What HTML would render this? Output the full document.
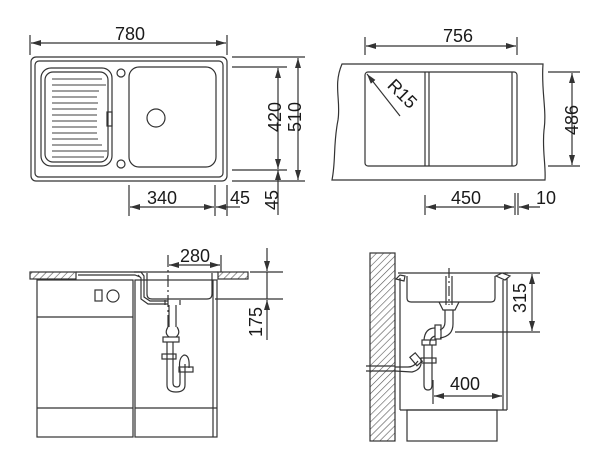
<!DOCTYPE html>
<html><head><meta charset="utf-8"><style>
html,body{margin:0;padding:0;background:#fff;}
svg{display:block;}
text{font-family:"Liberation Sans",Arial,sans-serif;font-size:18px;fill:#1a1a1a;}
</style></head><body>
<svg width="600" height="467" viewBox="0 0 600 467" xmlns="http://www.w3.org/2000/svg">
<defs>
<marker id="a" viewBox="0 0 10 6" refX="10" refY="3" markerWidth="10" markerHeight="6" orient="auto-start-reverse" markerUnits="userSpaceOnUse"><path d="M0,0 L10,3 L0,6 z" fill="#333"/></marker>
<pattern id="h" width="5" height="5" patternUnits="userSpaceOnUse" patternTransform="rotate(45)"><rect width="5" height="5" fill="#fff"/><line x1="0" y1="0" x2="0" y2="5" stroke="#555" stroke-width="1.2"/></pattern>
</defs>
<g fill="none" stroke="#333" stroke-width="1.2">
<line x1="30" y1="35" x2="30" y2="55"/><line x1="227" y1="35" x2="227" y2="55"/>
<line x1="31" y1="43" x2="226" y2="43" marker-start="url(#a)" marker-end="url(#a)"/>
<rect x="31" y="57" width="196" height="124" rx="5"/>
<rect x="35" y="61" width="188" height="116" rx="4"/>
<rect x="41" y="68" width="71" height="98" rx="10"/>
<rect x="45" y="72" width="63" height="90" rx="8"/>
<g stroke="#666">
<path d="M52,79 h50 M52,85 h54 M52,91 h47 M52,97 h45 M52,103 h46 M52,109 h45 M52,115 h45 M52,121 h45 M52,127 h45 M52,133 h45 M52,139 h46 M52,145 h50 M52,151 h55 M52,157 h52"/>
</g>
<rect x="107" y="112" width="5" height="14"/>
<circle cx="121" cy="73" r="4"/><circle cx="121" cy="164" r="4"/>
<rect x="129" y="67" width="87" height="100" rx="10"/>
<circle cx="156" cy="118" r="9"/>
<line x1="232" y1="57" x2="305" y2="57"/><line x1="232" y1="181" x2="305" y2="181"/>
<line x1="232" y1="67" x2="287" y2="67"/><line x1="232" y1="170" x2="287" y2="170"/>
<line x1="278" y1="68" x2="278" y2="169" marker-start="url(#a)" marker-end="url(#a)"/>
<line x1="298" y1="58" x2="298" y2="180" marker-start="url(#a)" marker-end="url(#a)"/>
<line x1="278" y1="181" x2="278" y2="215"/><line x1="278" y1="170" x2="278" y2="181" marker-start="url(#a)"/>
<line x1="129" y1="185" x2="129" y2="216"/><line x1="215" y1="185" x2="215" y2="216"/><line x1="227" y1="185" x2="227" y2="216"/>
<line x1="130" y1="207" x2="214" y2="207" marker-start="url(#a)" marker-end="url(#a)"/>
<line x1="216" y1="207" x2="240" y2="207" marker-start="url(#a)"/>

<line x1="365" y1="37" x2="365" y2="55"/><line x1="517" y1="37" x2="517" y2="55"/>
<line x1="366" y1="46" x2="516" y2="46" marker-start="url(#a)" marker-end="url(#a)"/>
<path d="M342,64 L543,64 C541,90 547,110 544,130 C542,150 546,165 545,180 L332,180 C336,160 333,145 338,120 C341,100 333,85 342,64 Z"/>
<rect x="365" y="72" width="152" height="94" rx="3"/>
<line x1="425" y1="72" x2="425" y2="166"/><line x1="429" y1="72" x2="429" y2="166"/>
<line x1="512" y1="72" x2="512" y2="166"/>
<line x1="400" y1="116" x2="367" y2="74" marker-end="url(#a)"/>
<line x1="548" y1="72" x2="580" y2="72"/><line x1="548" y1="166" x2="580" y2="166"/>
<line x1="572" y1="73" x2="572" y2="165" marker-start="url(#a)" marker-end="url(#a)"/>
<line x1="425" y1="195" x2="425" y2="215"/><line x1="515" y1="193" x2="515" y2="215"/><line x1="518" y1="193" x2="518" y2="215"/>
<line x1="426" y1="207" x2="514" y2="207" marker-start="url(#a)" marker-end="url(#a)"/>
<line x1="519" y1="207" x2="540" y2="207" marker-start="url(#a)"/>

<rect x="30" y="272" width="46" height="7" fill="url(#h)"/>
<rect x="218" y="272" width="30" height="7" fill="url(#h)"/>
<path d="M76,272 H218 M78,275 H135 L140,277"/>
<rect x="37" y="280" width="96" height="157"/>
<line x1="37" y1="317" x2="133" y2="317"/><line x1="37" y1="408" x2="133" y2="408"/>
<rect x="135" y="280" width="82" height="157"/>
<line x1="135" y1="408" x2="217" y2="408"/>
<line x1="213" y1="280" x2="213" y2="437"/>
<rect x="95" y="290" width="7" height="11"/><circle cx="113" cy="296" r="6"/>
<path d="M134,272 L141,272 L144,276 L144,297 L150,301 L168,301"/>
<path d="M138,275 L141,278 L141,299 L148,304 L168,304"/>
<path d="M147,273 L147,294 Q147,299 152,299 L207,299 Q212,299 212,294 L212,273"/>
<path d="M165,300 L165,305 M180,300 L180,305 M169,305 L169,327 M176,305 L176,327"/>
<path d="M168,327 Q164,333 169,337 M177,327 Q181,333 176,337"/>
<rect x="163" y="337" width="16" height="5"/>
<path d="M167,342 L167,385 Q167,392 176,392 Q185,392 185,385 L185,370 M173,342 L173,383 Q173,387 177,387 Q180,387 180,383 L180,370"/>
<rect x="162" y="354" width="14" height="5"/>
<path d="M180,370 Q178,358 184,355 Q190,355 189,368 M185,370 L185,364"/>
<rect x="179" y="367" width="14" height="5"/>
<line x1="168" y1="255" x2="168" y2="330" stroke-dasharray="12,3,2,3"/>
<line x1="221" y1="255" x2="221" y2="272"/>
<line x1="169" y1="265" x2="220" y2="265" marker-start="url(#a)" marker-end="url(#a)"/>
<line x1="250" y1="272" x2="283" y2="272"/><line x1="215" y1="299" x2="283" y2="299"/>
<line x1="267" y1="248" x2="267" y2="271" marker-end="url(#a)"/>
<line x1="267" y1="272" x2="267" y2="299"/>
<line x1="267" y1="340" x2="267" y2="300" marker-end="url(#a)"/>

<rect x="370" y="253" width="25" height="188" fill="url(#h)"/>
<path d="M398,273 H508 M396,279 L400,275 L405,276 L404,281 Z M496,276 L502,273 L510,276 L505,280 Z"/>
<line x1="400" y1="278" x2="400" y2="410"/><line x1="503" y1="280" x2="503" y2="410"/><line x1="507" y1="278" x2="507" y2="410"/>
<line x1="400" y1="410" x2="507" y2="410"/>
<rect x="407" y="410" width="90" height="31"/>
<path d="M407,276 L407,298 Q407,302 411,302 L491,302 Q495,302 495,298 L495,276"/>
<line x1="449" y1="268" x2="449" y2="305" stroke-dasharray="10,3,2,3"/>
<line x1="446" y1="276" x2="446" y2="305"/><line x1="452" y1="276" x2="452" y2="305"/>
<path d="M439,302 L443,310 L455,310 L459,302 M445,310 L445,322 Q445,328 440,330 M453,310 L453,324 Q453,336 440,338"/>
<rect x="435" y="325" width="6" height="14"/>
<path d="M435,328 Q425,328 424,340 M435,336 Q429,338 430,345"/>
<rect x="422" y="340" width="14" height="5"/>
<path d="M424,345 L424,385 Q424,390 428,390 Q432,390 432,385 L432,345"/>
<rect x="421" y="358" width="15" height="5"/>
<path d="M395,367 L408,367 Q414,367 418,361 M395,371 L412,372 Q420,370 421,364"/>
<rect x="413" y="354" width="7" height="11" transform="rotate(-40 416 360)"/>
<line x1="366" y1="366" x2="395" y2="366"/><line x1="366" y1="371" x2="395" y2="371"/>
<line x1="455" y1="332" x2="540" y2="332"/>
<line x1="505" y1="273" x2="540" y2="273"/>
<line x1="532" y1="274" x2="532" y2="331" marker-start="url(#a)" marker-end="url(#a)"/>
<line x1="433" y1="380" x2="433" y2="404"/>
<line x1="434" y1="396" x2="502" y2="396" marker-start="url(#a)" marker-end="url(#a)"/>
</g>
<g>
<text x="130" y="40" text-anchor="middle">780</text>
<text transform="translate(281,117) rotate(-90)" text-anchor="middle">420</text>
<text transform="translate(301,117) rotate(-90)" text-anchor="middle">510</text>
<text x="162" y="204" text-anchor="middle">340</text>
<text x="240" y="204" text-anchor="middle">45</text>
<text transform="translate(278,200) rotate(-90)" text-anchor="middle">45</text>
<text x="458" y="42" text-anchor="middle">756</text>
<text transform="translate(398,98) rotate(45)" text-anchor="middle">R15</text>
<text transform="translate(578,120) rotate(-90)" text-anchor="middle">486</text>
<text x="466" y="204" text-anchor="middle">450</text>
<text x="546" y="204" text-anchor="middle">10</text>
<text x="195" y="262" text-anchor="middle">280</text>
<text transform="translate(262,322) rotate(-90)" text-anchor="middle">175</text>
<text transform="translate(526,298) rotate(-90)" text-anchor="middle">315</text>
<text x="465" y="390" text-anchor="middle">400</text>
</g>
</svg>
</body></html>
